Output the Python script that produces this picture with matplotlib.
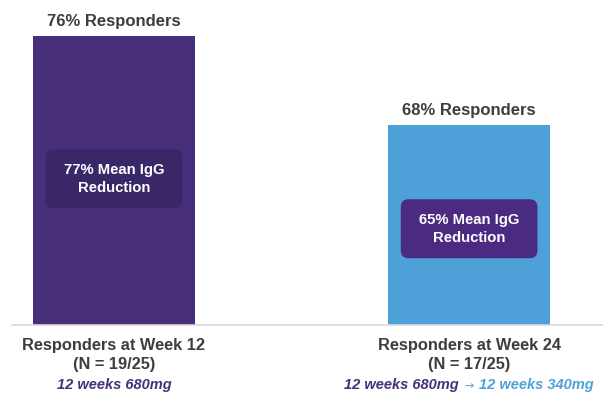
import numpy as np
import matplotlib
matplotlib.use("Agg")
import matplotlib.pyplot as plt
from matplotlib.patches import FancyBboxPatch
from matplotlib.offsetbox import TextArea, HPacker, AnnotationBbox

plt.rcParams['font.family'] = ['Liberation Sans', 'DejaVu Sans']

# data
responders = [76, 68]
igg_reduction = [77, 65]
weeks = [12, 24]
n_resp = ["19/25", "17/25"]

purple = "#482f7b"
blue = "#4ea1d8"
text_gray = "#3d3d3d"

fig = plt.figure(figsize=(6.03, 3.95), dpi=100)
ax = fig.add_axes([0, 70 / 395, 1, 325 / 395])
ax.set_xlim(-0.321, 1.377)
ax.set_ylim(50, 79.21)
ax.axis("off")

x = np.arange(len(responders))
ax.bar(x, np.array(responders) - 50, bottom=50, width=0.458,
       color=[purple, blue], edgecolor="none")

# baseline
ax.plot([-0.288, 1.377], [50, 50], color="#d9d9d9", lw=1.2, clip_on=False)

box_fc = ["#3a2768", "#4b2b81"]
box_y = [60.5, 56.0]
asp = 355 / 11.125
for i in range(len(x)):
    ax.annotate(f"{responders[i]}% Responders", xy=(x[i], responders[i]),
                xytext=(0, 10.5), textcoords="offset points",
                ha="center", va="center", fontsize=12,
                fontweight="bold", color=text_gray)
    h = 59 / 11.125
    w = 0.385
    box = FancyBboxPatch((x[i] - w / 2, box_y[i]), w, h,
                         boxstyle="round,pad=0,rounding_size=0.022",
                         mutation_aspect=asp,
                         fc=box_fc[i], ec="none")
    ax.add_patch(box)
    ax.text(x[i], box_y[i] + h / 2, f"{igg_reduction[i]}% Mean IgG\nReduction",
            ha="center", va="center", color="white", fontsize=10.7,
            fontweight="bold", linespacing=1.35)
    ax.annotate(f"Responders at Week {weeks[i]}",
                xy=(x[i], 50), xytext=(0, -14.8), textcoords="offset points",
                ha="center", va="center", fontsize=11.8, color=text_gray,
                fontweight="bold", annotation_clip=False)
    ax.annotate(f"(N = {n_resp[i]})",
                xy=(x[i], 50), xytext=(0, -28.2), textcoords="offset points",
                ha="center", va="center", fontsize=11.8, color=text_gray,
                fontweight="bold", annotation_clip=False)

# dosing lines
ax.annotate("12 weeks 680mg", xy=(x[0], 50), xytext=(0, -43),
            textcoords="offset points", ha="center", va="center",
            fontsize=10.5, fontweight="bold", style="italic", color=purple,
            annotation_clip=False)

parts = [("12 weeks 680mg", purple, 10.5, "italic", ['Liberation Sans']),
         ("\u2192", "#7fa3c4", 8, "normal", ['DejaVu Sans']),
         ("12 weeks 340mg", blue, 10.5, "italic", ['Liberation Sans'])]
areas = [TextArea(t, textprops=dict(fontsize=fs, fontweight="bold",
                                    style=st, color=c, family=fam))
         for t, c, fs, st, fam in parts]
pack = HPacker(children=areas, pad=0, sep=4, align="baseline")
ab = AnnotationBbox(pack, (x[1], 50), xybox=(0, -43),
                    boxcoords="offset points", frameon=False,
                    box_alignment=(0.5, 0.5), annotation_clip=False)
ax.add_artist(ab)

fig.savefig("out.png", dpi=100)
